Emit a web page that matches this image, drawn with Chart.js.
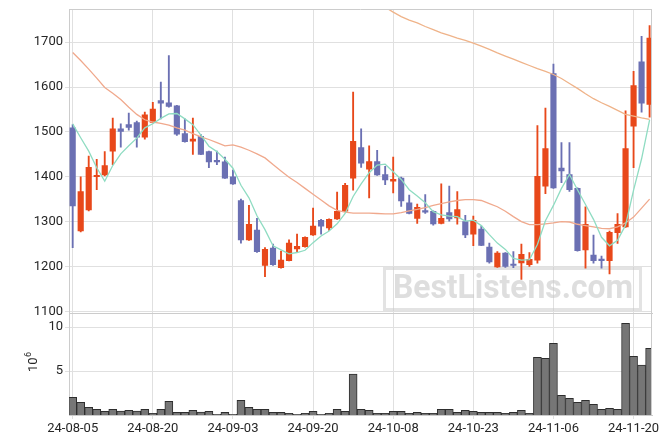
<!DOCTYPE html>
<html>
<head>
<meta charset="utf-8">
<script src="https://cdn.jsdelivr.net/npm/chart.js@4.4.1/dist/chart.umd.min.js"></script>
<style>
  html, body { margin: 0; padding: 0; background: #fff; }
  #wrap { position: relative; width: 670px; height: 444px; }
  #top { position: absolute; left: 0; top: 0; }
  #vol { position: absolute; left: 0; top: 313px; }
</style>
</head>
<body>
<div id="wrap">
  <canvas id="top" width="670" height="318"></canvas>
  <canvas id="vol" width="670" height="131"></canvas>
</div>
<script>
// trading days, index 0 = 24-08-05
const tickIdx = [0, 10, 20, 30, 40, 50, 60, 70];
const tickLabels = ['24-08-05', '24-08-20', '24-09-03', '24-09-20', '24-10-08', '24-10-23', '24-11-06', '24-11-20'];
const priceTicks = [1100, 1200, 1300, 1400, 1500, 1600, 1700];
const volTicks = [5, 10];

const opens = [1509,1279,1326,1400,1404,1457,1507,1516,1521,1488,1521,1570,1565,1558,1496,1479,1490,1456,1435,1433,
  1400,1347,1259,1281,1202,1241,1197,1213,1239,1244,1270,1303,1286,1306,1323,1397,1465,1417,1434,1405,
  1390,1397,1342,1307,1323,1323,1296,1320,1308,1300,1272,1283,1243,1199,1230,1205,1208,1204,1214,1379,
  1630,1419,1405,1374,1237,1225,1215,1213,1275,1288,1513,1656,1561];
const highs = [1516,1400,1446,1439,1456,1531,1518,1542,1524,1544,1566,1611,1670,1559,1529,1531,1494,1457,1457,1444,
  1415,1350,1336,1307,1242,1250,1234,1259,1272,1266,1330,1305,1306,1366,1385,1589,1507,1469,1459,1423,
  1444,1399,1359,1339,1360,1324,1384,1379,1367,1314,1312,1290,1252,1233,1231,1233,1250,1231,1514,1553,
  1651,1476,1476,1375,1333,1270,1223,1279,1318,1547,1635,1713,1737];
const lows = [1242,1277,1324,1371,1402,1427,1466,1504,1466,1484,1520,1529,1555,1492,1477,1450,1449,1420,1427,1396,
  1383,1252,1258,1231,1177,1202,1196,1212,1233,1243,1269,1272,1280,1305,1322,1370,1421,1353,1403,1382,
  1364,1334,1317,1296,1318,1292,1295,1301,1294,1264,1246,1246,1207,1198,1198,1197,1171,1200,1207,1362,
  1374,1387,1367,1234,1196,1207,1196,1183,1251,1287,1420,1544,1533];
const closes = [1335,1367,1421,1403,1425,1507,1501,1510,1488,1538,1551,1564,1557,1495,1478,1484,1450,1433,1433,1397,
  1384,1259,1294,1233,1238,1204,1214,1252,1245,1265,1290,1290,1305,1323,1381,1479,1430,1434,1404,1393,
  1394,1346,1318,1332,1321,1295,1307,1306,1327,1270,1303,1247,1210,1230,1200,1202,1227,1216,1401,1463,
  1375,1413,1371,1235,1294,1213,1213,1276,1294,1463,1603,1564,1709];
// volume in millions
const volumes = [2.0,1.45,0.88,0.65,0.42,0.65,0.45,0.53,0.45,0.65,0.19,0.65,1.56,0.3,0.3,0.53,0.34,0.42,0.08,0.3,
  0.08,1.67,0.88,0.65,0.65,0.3,0.3,0.19,0.08,0.19,0.42,0.08,0.19,0.65,0.42,4.67,0.65,0.53,0.19,0.19,
  0.42,0.42,0.19,0.3,0.19,0.19,0.65,0.65,0.3,0.53,0.42,0.3,0.3,0.3,0.19,0.3,0.53,0.19,6.58,6.46,
  8.17,2.24,1.9,1.45,1.67,1.22,0.65,0.76,0.65,10.45,6.69,5.67,7.6];
const ma5 = [1518,1487,1457,1420,1390,1425,1451,1469,1486,1509,1518,1530,1540,1541,1529,1516,1493,1468,1456,1439,
  1419,1381,1353,1313,1282,1246,1237,1228,1231,1236,1253,1268,1279,1295,1318,1356,1384,1409,1426,1428,
  1411,1394,1371,1357,1342,1322,1315,1312,1311,1301,1303,1291,1271,1252,1238,1218,1214,1215,1249,1302,
  1336,1374,1405,1371,1338,1305,1265,1246,1258,1292,1370,1440,1527];
const ma20 = [1677,1659,1640,1620,1599,1586,1572,1555,1539,1527,1522,1519,1515,1509,1504,1496,1489,1483,1476,1469,
  1471,1466,1459,1451,1442,1427,1413,1399,1387,1374,1361,1348,1335,1325,1321,1319,1319,1319,1318,1317,
  1317,1320,1324,1327,1331,1336,1340,1344,1347,1349,1349,1347,1340,1333,1323,1311,1300,1293,1293,1295,
  1297,1300,1299,1294,1291,1288,1285,1284,1288,1297,1310,1330,1350];
const ma60 = [null,null,null,null,null,null,null,null,null,null,null,null,null,null,null,null,null,null,null,null,
  null,null,null,null,null,null,null,null,null,null,null,null,null,null,null,null,null,null,1790,1778,
  1767,1757,1749,1743,1735,1728,1721,1715,1709,1704,1698,1691,1684,1676,1669,1662,1655,1648,1641,1635,
  1628,1619,1608,1597,1585,1574,1565,1557,1548,1539,1535,1531,1528];

const idx = opens.map((_, i) => i);
const upCol = '#e8481a';
const downCol = '#6b70b3';
const candleCol = opens.map((o, i) => closes[i] >= o ? upCol : downCol);
const gridCol = '#e0e0e0';
const borderCol = '#cccccc';
const txtCol = '#262626';

Chart.defaults.font.family = 'Roboto';
Chart.defaults.font.size = 13;
Chart.defaults.color = txtCol;
Chart.defaults.animation = false;

const frame = {
  id: 'frame',
  afterDraw(chart) {
    const { ctx, chartArea: a } = chart;
    ctx.save();
    ctx.strokeStyle = borderCol;
    ctx.lineWidth = 1;
    ctx.beginPath();
    if (chart.canvas.id === 'top') {
      ctx.moveTo(a.left, Math.round(a.top) + 0.5);
      ctx.lineTo(a.right, Math.round(a.top) + 0.5);
    }
    ctx.moveTo(Math.round(a.right) - 0.5, a.top);
    ctx.lineTo(Math.round(a.right) - 0.5, a.bottom);
    ctx.stroke();
    ctx.restore();
  }
};

const watermark = {
  id: 'watermark',
  beforeDatasetsDraw(chart) {
    const ctx = chart.ctx;
    ctx.save();
    ctx.strokeStyle = 'rgba(200,200,200,0.5)';
    ctx.lineWidth = 3;
    ctx.strokeRect(384.5, 268.5, 256, 41);
    ctx.font = 'bold 33px Roboto';
    ctx.textAlign = 'center';
    ctx.textBaseline = 'middle';
    ctx.fillStyle = 'rgba(200,200,200,0.6)';
    ctx.fillText('BestListens.com', 513, 290, 240);
    ctx.restore();
  }
};

const volTitle = {
  id: 'volTitle',
  afterDraw(chart) {
    const ctx = chart.ctx;
    ctx.save();
    ctx.translate(37, 372 - 313);
    ctx.rotate(-Math.PI / 2);
    ctx.fillStyle = txtCol;
    ctx.font = '13px Roboto';
    ctx.textBaseline = 'alphabetic';
    ctx.fillText('10', 0, 0);
    const w = ctx.measureText('10').width;
    ctx.font = '9px Roboto';
    ctx.fillText('6', w + 0.5, -6);
    ctx.restore();
  }
};

// keep tick labels from pushing the plot area inwards
const noPad = s => { s.paddingTop = 0; s.paddingBottom = 0; s.paddingLeft = 0; s.paddingRight = 0; };

const xBase = {
  type: 'linear',
  min: -0.46,
  max: 72.3,
  offset: false,
  afterBuildTicks: s => { s.ticks = tickIdx.map(v => ({ value: v })); },
  grid: { color: gridCol, offset: false },
  border: { color: borderCol }
};

new Chart(document.getElementById('top'), {
  type: 'bar',
  data: {
    labels: idx,
    datasets: [
      {
        type: 'line', data: ma5, borderColor: '#8fdcc2', borderWidth: 1.3,
        pointRadius: 0, order: 0
      },
      {
        type: 'line', data: ma20, borderColor: '#f0a98d', borderWidth: 1.3,
        pointRadius: 0, order: 0
      },
      {
        type: 'line', data: ma60, borderColor: '#efb389', borderWidth: 1.3,
        pointRadius: 0, order: 0
      },
      {
        data: lows.map((l, i) => [l, highs[i]]), backgroundColor: candleCol,
        barThickness: 1.2, grouped: false, order: 2
      },
      {
        data: opens.map((o, i) => [o, closes[i]]), backgroundColor: candleCol,
        barThickness: 5.5, minBarLength: 1.5, grouped: false, order: 1
      }
    ]
  },
  options: {
    responsive: false,
    layout: { padding: { top: 9, right: 18, left: 0, bottom: 4.5 } },
    plugins: { legend: { display: false }, tooltip: { enabled: false } },
    scales: {
      x: Object.assign({}, xBase, {
        ticks: { display: false },
        grid: { color: gridCol, offset: false, drawTicks: false },
        afterFit: s => { s.height = 0; noPad(s); }
      }),
      y: {
        min: 1095,
        max: 1774,
        afterBuildTicks: s => { s.ticks = priceTicks.map(v => ({ value: v })); },
        afterFit: s => { s.width = 69; noPad(s); },
        ticks: { padding: 2, callback: v => String(v) },
        grid: { color: gridCol, tickLength: 4 },
        border: { color: borderCol }
      }
    }
  },
  plugins: [frame, watermark]
});

new Chart(document.getElementById('vol'), {
  type: 'bar',
  data: {
    labels: idx,
    datasets: [{
      data: volumes,
      backgroundColor: '#767676',
      borderColor: '#2e2e2e',
      borderWidth: 1,
      barThickness: 8,
      grouped: false
    }]
  },
  options: {
    responsive: false,
    layout: { padding: { top: 1, right: 18, left: 0, bottom: 0 } },
    plugins: { legend: { display: false }, tooltip: { enabled: false } },
    scales: {
      x: Object.assign({}, xBase, {
        ticks: {
          autoSkip: false, maxRotation: 0, padding: 2,
          callback: v => tickLabels[tickIdx.indexOf(v)]
        },
        grid: { color: gridCol, offset: false, tickLength: 4 },
        afterFit: s => { s.height = 29; noPad(s); }
      }),
      y: {
        min: 0,
        max: 11.5,
        afterBuildTicks: s => { s.ticks = volTicks.map(v => ({ value: v })); },
        afterFit: s => { s.width = 69; noPad(s); },
        ticks: { padding: 2, callback: v => String(v) },
        grid: { color: gridCol, tickLength: 4 },
        border: { color: borderCol }
      }
    }
  },
  plugins: [frame, volTitle]
});
</script>
</body>
</html>
